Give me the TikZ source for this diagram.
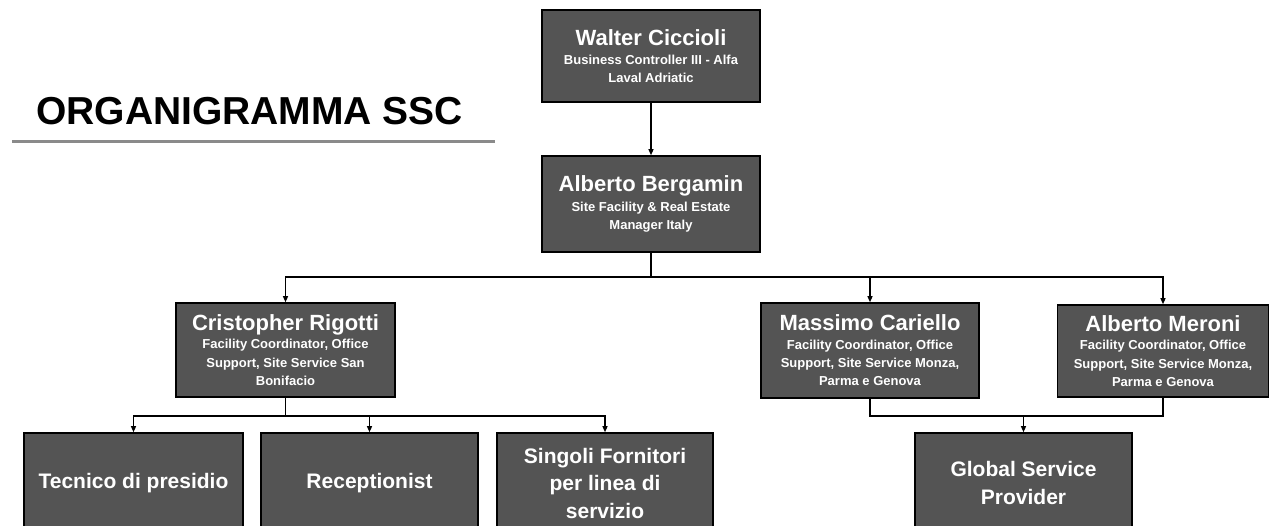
\documentclass[tikz,border=0pt]{standalone}
\usepackage{fontspec}
\setmainfont{Liberation Sans}
\usetikzlibrary{arrows.meta}
\definecolor{boxgray}{HTML}{545454}
\definecolor{rulegray}{HTML}{8A8A8A}
\newcommand{\nmtxt}[1]{{\fontsize{22}{24}\selectfont #1}}
\begin{document}
\begin{tikzpicture}[x=1pt,y=-1pt,
  box/.style={draw=black,line width=1.6pt,fill=boxgray,text=white,
    font=\bfseries\fontsize{13}{18.3}\selectfont,
    align=center,inner sep=0pt},
  conn/.style={line width=1.2pt,black},
  arr/.style={conn,-{Triangle[length=6pt,width=5pt]}}]
\useasboundingbox (0,0) rectangle (1269,526);
% title
\node[anchor=base west,inner sep=0pt,font=\bfseries\fontsize{39}{44}\selectfont] (title) at (36,125) {ORGANIGRAMMA SSC};
\draw[rulegray,line width=3pt] (12,142) -- (495,142);
% boxes
\node[box,minimum width=218pt,minimum height=92pt] (walter) at (651,56)
  {\nmtxt{Walter Ciccioli}\\[1pt]Business Controller III - Alfa\\Laval Adriatic};
\node[box,minimum width=218pt,minimum height=96pt] (berg) at (651,204)
  {\nmtxt{Alberto Bergamin}\\[1pt]Site Facility \& Real Estate\\Manager Italy};
\node[box,minimum width=219pt,minimum height=94pt] (cris) at (285.5,350)
  {\nmtxt{Cristopher Rigotti}\\Facility Coordinator, Office\\Support, Site Service San\\Bonifacio};
\node[box,minimum width=218pt,minimum height=95pt] (mass) at (870,350.5)
  {\nmtxt{Massimo Cariello}\\Facility Coordinator, Office\\Support, Site Service Monza,\\Parma e Genova};
\node[box,minimum width=211pt,minimum height=92pt] (mer) at (1163,351)
  {\nmtxt{Alberto Meroni}\\Facility Coordinator, Office\\Support, Site Service Monza,\\Parma e Genova};
\tikzset{low/.style={box,minimum height=100pt,font=\bfseries\fontsize{21}{27.5}\selectfont}}
\node[low,minimum width=219pt] (tec) at (133.5,483) {Tecnico di presidio};
\node[low,minimum width=217pt] (rec) at (369.5,483) {Receptionist};
\node[low,minimum width=216pt] (sing) at (605,483) {Singoli Fornitori\\per linea di\\servizio};
\node[low,minimum width=217pt] (glob) at (1023.5,483) {Global Service\\Provider};
% connectors
\draw[arr] (walter.south) -- (berg.north);
\coordinate (j1) at (651,277);
\draw[conn] (berg.south) -- (j1);
\draw[arr] (j1) -| (cris.north);
\draw[arr] (j1) -| (mass.north);
\draw[arr] (j1) -| (mer.north);
\coordinate (j2) at (285.5,416);
\draw[conn] (cris.south) -- (j2);
\draw[arr] (j2) -| (tec.north);
\draw[arr] (j2) -| (rec.north);
\draw[arr] (j2) -| (sing.north);
\coordinate (j3) at (1023.5,416);
\draw[conn] (mass.south) |- (j3);
\draw[conn] (mer.south) |- (j3);
\draw[arr] (j3) -- (glob.north);
\end{tikzpicture}
\end{document}
